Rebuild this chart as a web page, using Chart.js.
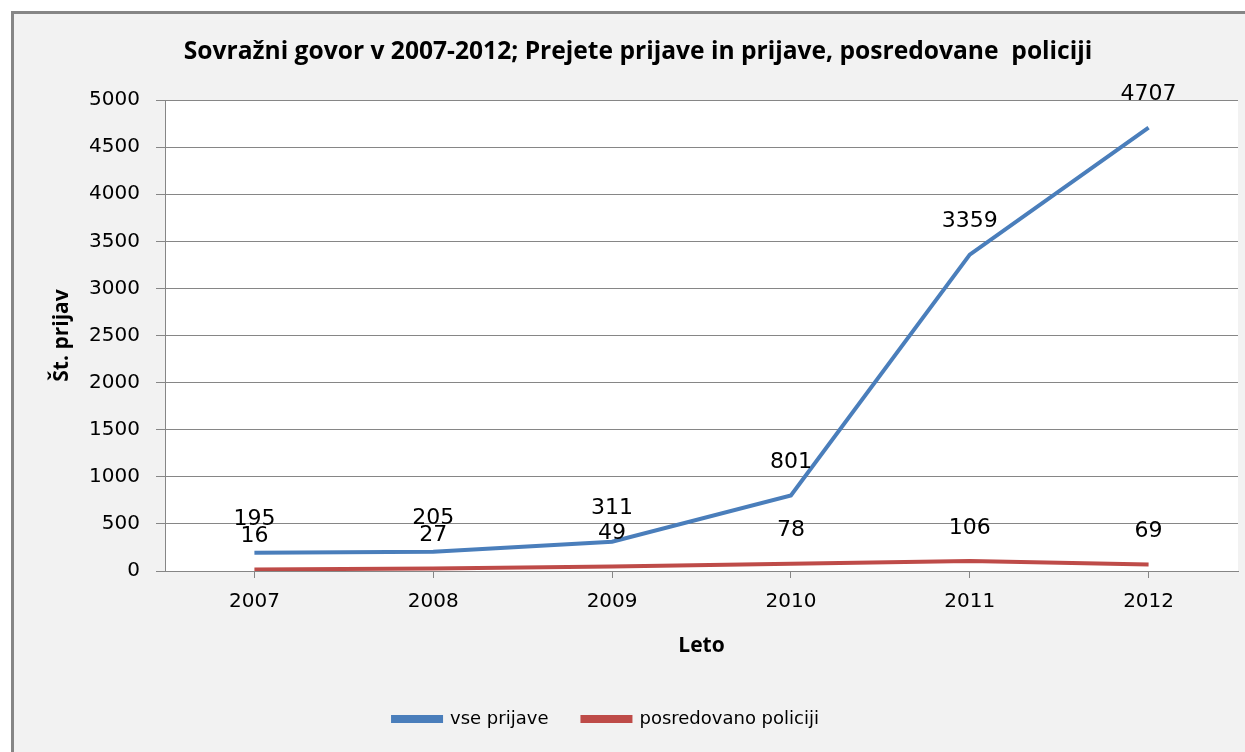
<!DOCTYPE html>
<html>
<head>
<meta charset="utf-8">
<script src="https://cdn.jsdelivr.net/npm/chart.js@4/dist/chart.umd.min.js"></script>
<style>
  html, body { margin: 0; padding: 0; background: #fff; }
  #wrap { width: 1245px; height: 752px; position: relative; }
</style>
</head>
<body>
<div id="wrap"><canvas id="mycanvas"></canvas></div>
<script>
var years = ['2007', '2008', '2009', '2010', '2011', '2012'];
var vsePrijave = [195, 205, 311, 801, 3359, 4707];
var posredovano = [16, 27, 49, 78, 106, 69];
var yTicks = [0, 500, 1000, 1500, 2000, 2500, 3000, 3500, 4000, 4500, 5000];

var numFont = 'DejaVu Sans';
var boldFont = 'Open Sans';

// gray frame + white plot area
var bgPlugin = {
  id: 'bg',
  afterLayout: function(chart) {
    // legend sits a bit left of centre in the original, title a bit right
    chart.legend.left -= 20;
    chart.legend.right -= 20;
    if (chart.titleBlock) {
      chart.titleBlock.left += 12;
      chart.titleBlock.right += 12;
    }
  },
  beforeDraw: function(chart) {
    var ctx = chart.ctx, a = chart.chartArea;
    ctx.save();
    ctx.fillStyle = '#ffffff';
    ctx.fillRect(0, 0, chart.width, chart.height);
    ctx.fillStyle = '#f2f2f2';
    ctx.fillRect(11, 11, chart.width - 11, chart.height - 11);
    ctx.fillStyle = '#868686';
    ctx.fillRect(11, 11, 3, chart.height - 11);
    ctx.fillRect(11, 11, chart.width - 11, 3);
    ctx.fillStyle = '#ffffff';
    ctx.fillRect(a.left, a.top, a.right - a.left, a.bottom - a.top);
    ctx.restore();
  }
};

// value labels above each point
var labelPlugin = {
  id: 'vals',
  afterDatasetsDraw: function(chart) {
    var ctx = chart.ctx;
    ctx.save();
    ctx.font = '22px "' + numFont + '"';
    ctx.fillStyle = '#000';
    ctx.textAlign = 'center';
    ctx.textBaseline = 'middle';
    chart.data.datasets.forEach(function(ds, i) {
      chart.getDatasetMeta(i).data.forEach(function(pt, j) {
        ctx.fillText(String(ds.data[j]), pt.x, pt.y - 33);
      });
    });
    ctx.restore();
  }
};

var chartdata = {
  labels: years,
  datasets: [
    {
      label: 'vse prijave',
      data: vsePrijave,
      borderColor: '#4a7ebb',
      backgroundColor: '#4a7ebb',
      borderWidth: 4,
      pointRadius: 0,
      tension: 0
    },
    {
      label: 'posredovano policiji',
      data: posredovano,
      borderColor: '#be4b48',
      backgroundColor: '#be4b48',
      borderWidth: 4,
      pointRadius: 0,
      tension: 0
    }
  ]
};

new Chart(document.getElementById('mycanvas'), {
  type: 'line',
  data: chartdata,
  plugins: [bgPlugin, labelPlugin],
  options: {
    responsive: true,
    maintainAspectRatio: false,
    animation: false,
    layout: { padding: { top: 12, left: 14, right: 7, bottom: 14 } },
    plugins: {
      title: {
        display: true,
        text: 'Sovražni govor v 2007-2012; Prejete prijave in prijave, posredovane  policiji',
        color: '#000',
        font: { family: boldFont, size: 24.6, weight: 'bold' },
        padding: { top: 25, bottom: 33.5 }
      },
      legend: {
        position: 'bottom',
        labels: {
          color: '#000',
          font: { family: numFont, size: 18 },
          boxWidth: 48,
          boxHeight: 4,
          padding: 34
        }
      },
      tooltip: { enabled: false }
    },
    scales: {
      x: {
        offset: true,
        grid: { drawOnChartArea: false, tickLength: 7, color: '#868686' },
        border: { color: '#868686' },
        ticks: { color: '#000', font: { family: numFont, size: 20 }, padding: 12 },
        title: {
          display: true,
          text: 'Leto',
          color: '#000',
          font: { family: boldFont, size: 21, weight: 'bold' },
          padding: { top: 0, bottom: 17.4 }
        },
        afterFit: function(s) { s.height = 105; }
      },
      y: {
        min: 0,
        max: 5000,
        afterBuildTicks: function(s) {
          s.ticks = yTicks.map(function(v) { return { value: v }; });
        },
        grid: { color: '#868686', tickLength: 9 },
        border: { color: '#868686' },
        ticks: {
          color: '#000',
          font: { family: numFont, size: 20 },
          padding: 16,
          callback: function(v) { return String(v); }
        },
        title: {
          display: true,
          text: 'Št. prijav',
          color: '#000',
          font: { family: boldFont, size: 21, weight: 'bold' },
          padding: { top: 35.4, bottom: 0 }
        },
        afterFit: function(s) { s.width = 151; }
      }
    }
  }
});
</script>
</body>
</html>
